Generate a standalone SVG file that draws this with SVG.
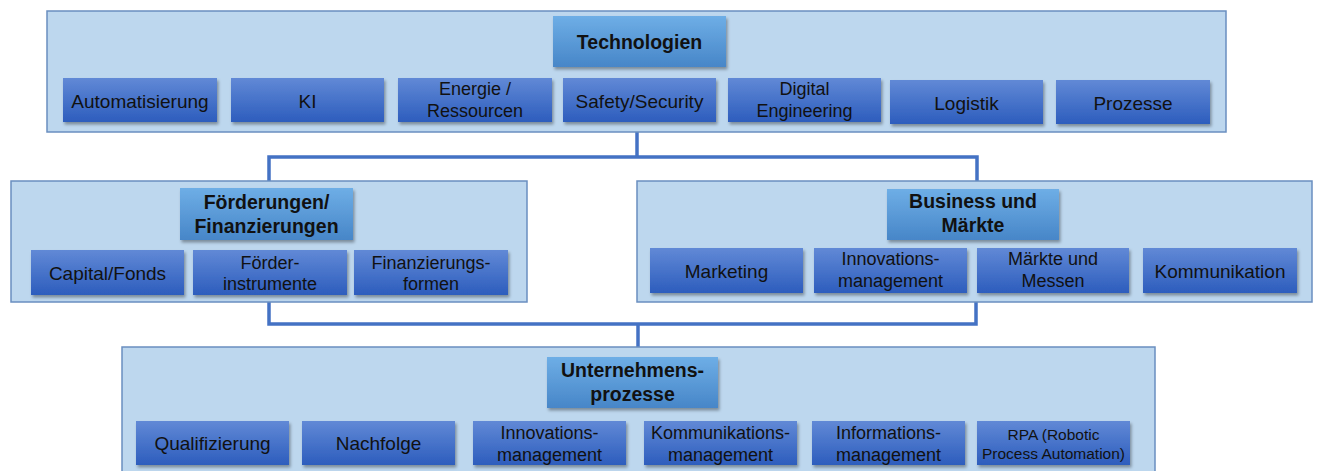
<svg xmlns="http://www.w3.org/2000/svg" width="1318" height="471" viewBox="0 0 1318 471">
<defs>
<linearGradient id="gHead" x1="0" y1="0" x2="0" y2="1">
<stop offset="0" stop-color="#6EAEE6"/>
<stop offset="1" stop-color="#4786C8"/>
</linearGradient>
<linearGradient id="gItem" x1="0" y1="0" x2="0" y2="1">
<stop offset="0" stop-color="#6189D6"/>
<stop offset="1" stop-color="#2D5DBD"/>
</linearGradient>
<filter id="sh" x="-10%" y="-20%" width="125%" height="150%">
<feDropShadow dx="1.5" dy="2.5" stdDeviation="1.6" flood-color="#000" flood-opacity="0.35"/>
</filter>
<style>
.panel{fill:#BDD7EE;stroke:#6A8EC0;stroke-width:1.5}
.head{fill:url(#gHead);filter:url(#sh)}
.item{fill:url(#gItem);filter:url(#sh)}
.ht{font-family:"Liberation Sans",Arial,sans-serif;font-weight:bold;font-size:19.5px;fill:#111;text-anchor:middle}
.it{font-family:"Liberation Sans",Arial,sans-serif;font-size:19px;fill:#111;text-anchor:middle}
.it2{font-family:"Liberation Sans",Arial,sans-serif;font-size:18px;fill:#111;text-anchor:middle}
.it3{font-family:"Liberation Sans",Arial,sans-serif;font-size:15.5px;fill:#111;text-anchor:middle}
.conn{fill:none;stroke:#4472C4;stroke-width:3.5}
</style>
</defs>
<rect width="1318" height="471" fill="#FFFFFF"/>

<g id="connectors">
<path class="conn" d="M637,132 V157"/>
<path class="conn" d="M269,181 V157 H977 V181"/>
<path class="conn" d="M269,302 V324 H976 V302"/>
<path class="conn" d="M638,324 V347"/>
</g>

<g id="technologien">
<rect class="panel" x="47" y="11" width="1179" height="121"/>
<rect class="head" x="553" y="16" width="173" height="51"/>
<text class="ht" x="639.5" y="48.5">Technologien</text>
<g id="t-automatisierung"><rect class="item" x="63" y="78" width="154" height="44"/><text class="it" x="140" y="107.5">Automatisierung</text></g>
<g id="t-ki"><rect class="item" x="231" y="78" width="153" height="44"/><text class="it" x="307.5" y="107.5">KI</text></g>
<g id="t-energie"><rect class="item" x="398" y="78" width="154" height="44"/><text class="it2" x="475" y="95">Energie /</text><text class="it2" x="475" y="116.5">Ressourcen</text></g>
<g id="t-safety"><rect class="item" x="563" y="78" width="153" height="44"/><text class="it" x="639.5" y="107.5">Safety/Security</text></g>
<g id="t-digital"><rect class="item" x="728" y="78" width="153" height="44"/><text class="it2" x="804.5" y="95">Digital</text><text class="it2" x="804.5" y="117">Engineering</text></g>
<g id="t-logistik"><rect class="item" x="890" y="80" width="153" height="44"/><text class="it" x="966.5" y="110">Logistik</text></g>
<g id="t-prozesse"><rect class="item" x="1056" y="80" width="154" height="44"/><text class="it" x="1133" y="110">Prozesse</text></g>
</g>

<g id="foerderungen">
<rect class="panel" x="11" y="181" width="516" height="121"/>
<rect class="head" x="180" y="188" width="173" height="52"/>
<text class="ht" x="266.5" y="209">Förderungen/</text>
<text class="ht" x="266.5" y="233">Finanzierungen</text>
<g id="f-capital"><rect class="item" x="31" y="250" width="153" height="45"/><text class="it" x="107.5" y="279.5">Capital/Fonds</text></g>
<g id="f-foerder"><rect class="item" x="193" y="250" width="154" height="45"/><text class="it2" x="270" y="268.5">Förder-</text><text class="it2" x="270" y="289.5">instrumente</text></g>
<g id="f-finanz"><rect class="item" x="354" y="250" width="154" height="45"/><text class="it2" x="431" y="268.5">Finanzierungs-</text><text class="it2" x="431" y="289.5">formen</text></g>
</g>

<g id="business">
<rect class="panel" x="637" y="181" width="675" height="121"/>
<rect class="head" x="887" y="189" width="172" height="51"/>
<text class="ht" x="973" y="208">Business und</text>
<text class="ht" x="973" y="232">Märkte</text>
<g id="b-marketing"><rect class="item" x="650" y="248" width="153" height="45"/><text class="it" x="726.5" y="277.5">Marketing</text></g>
<g id="b-innovation"><rect class="item" x="814" y="248" width="153" height="45"/><text class="it2" x="890.5" y="264.5">Innovations-</text><text class="it2" x="890.5" y="286.5">management</text></g>
<g id="b-maerkte"><rect class="item" x="977" y="248" width="152" height="45"/><text class="it2" x="1053" y="264.5">Märkte und</text><text class="it2" x="1053" y="286.5">Messen</text></g>
<g id="b-kommunikation"><rect class="item" x="1143" y="248" width="154" height="45"/><text class="it" x="1220" y="277.5">Kommunikation</text></g>
</g>

<g id="unternehmensprozesse">
<rect class="panel" x="122" y="347" width="1033" height="130"/>
<rect class="head" x="547" y="357" width="171" height="51"/>
<text class="ht" x="632.5" y="377">Unternehmens-</text>
<text class="ht" x="632.5" y="401">prozesse</text>
<g id="u-qualifizierung"><rect class="item" x="136" y="421" width="153" height="44"/><text class="it" x="212.5" y="450">Qualifizierung</text></g>
<g id="u-nachfolge"><rect class="item" x="302" y="421" width="153" height="44"/><text class="it" x="378.5" y="450">Nachfolge</text></g>
<g id="u-innovation"><rect class="item" x="473" y="421" width="153" height="44"/><text class="it2" x="549.5" y="438.5">Innovations-</text><text class="it2" x="549.5" y="460.5">management</text></g>
<g id="u-kommunikation"><rect class="item" x="644" y="421" width="153" height="44"/><text class="it2" x="720.5" y="438.5">Kommunikations-</text><text class="it2" x="720.5" y="460.5">management</text></g>
<g id="u-information"><rect class="item" x="812" y="421" width="153" height="44"/><text class="it2" x="888.5" y="438.5">Informations-</text><text class="it2" x="888.5" y="460.5">management</text></g>
<g id="u-rpa"><rect class="item" x="977" y="421" width="153" height="44"/><text class="it3" x="1053.5" y="439.5">RPA (Robotic</text><text class="it3" x="1053.5" y="458.5">Process Automation)</text></g>
</g>
</svg>
